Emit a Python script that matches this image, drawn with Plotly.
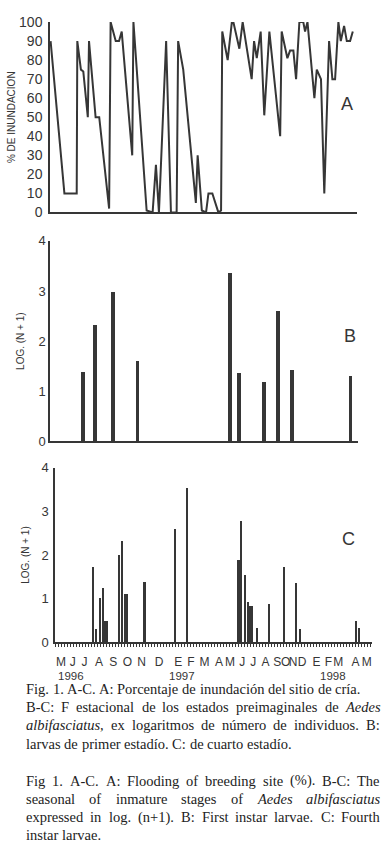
import plotly.graph_objects as go

W, H = 381, 859

# ---------------- data (x = sampling week index) ----------------
# Panel A: % flooding of breeding site
a_week = [0.2, 4.8, 8.9, 9.1, 10.3, 11.1, 12.6, 13.0, 15.2, 16.4, 19.7, 20.2, 21.9, 23.0,
          23.9, 27.4, 27.8, 32.2, 34.2, 35.3, 36.3, 38.7, 40.3, 42.2, 42.7, 44.4, 48.6,
          49.2, 50.6, 52.0, 52.8, 54.1, 56.1, 57.0, 57.4, 59.2, 60.6, 61.1, 63.1, 64.2,
          67.2, 68.0, 68.9, 70.2, 71.4, 73.1, 76.7, 77.2, 79.1, 80.0, 81.1, 82.0, 83.1,
          84.4, 85.0, 85.8, 88.1, 88.9, 90.3, 91.4, 93.0, 94.1, 95.0, 96.1, 96.9, 98.0,
          98.9, 100.0, 100.9]
a_flood = [90, 10, 10, 90, 75, 74, 50, 90, 50, 50, 2, 100, 90, 90,
           95, 30, 100, 1, 0, 25, 0, 90, 0, 0, 90, 75, 5,
           30, 1, 0, 10, 10, 0, 1, 95, 80, 100, 100, 86, 100,
           70, 90, 81, 95, 51, 95, 40, 95, 81, 85, 85, 70, 100,
           100, 95, 100, 60, 75, 70, 10, 90, 70, 70, 100, 90, 98,
           90, 90, 95]

# Panel B: first instar larvae, log(N+1)
b_week = [11.1, 15.0, 21.1, 29.2, 60.0, 63.1, 71.4, 76.1, 80.8, 100.2]
b_log = [1.38, 2.32, 2.99, 1.60, 3.36, 1.36, 1.19, 2.61, 1.42, 1.30]

# Panel C: fourth instar larvae, log(N+1)
c_week = [12.6, 13.7, 15.0, 15.9, 16.8, 17.2, 21.3, 22.4, 23.4, 23.9, 29.8, 40.0, 44.0,
          61.0, 61.4, 62.1, 63.3, 64.3, 65.0, 65.6, 67.4, 71.4, 76.4, 80.3, 81.7, 100.3, 101.4]
c_log = [1.74, 0.31, 1.02, 1.25, 0.51, 0.51, 2.02, 2.32, 1.11, 1.11, 1.40, 2.60, 3.55,
         1.89, 1.89, 2.78, 1.55, 0.93, 0.84, 0.84, 0.33, 0.88, 1.74, 1.38, 0.31, 0.51, 0.33]

month_labels = ["M", "J", "J", "A", "S", "O", "N", "D", "E", "F", "M", "A",
                "M", "J", "J", "A", "S", "O", "N", "D", "E", "F", "M", "A", "M"]
month_pos = [2.0, 5.9, 9.8, 14.7, 19.4, 24.1, 28.9, 34.7, 41.1, 45.3, 49.8, 54.7,
             58.3, 62.4, 66.1, 70.2, 74.1, 76.9, 79.4, 82.4, 87.2, 91.1, 94.4, 100.2, 103.9]
year_labels = ["1996", "1997", "1998"]
year_pos = [5.3, 42.3, 92.7]

# ---------------- helpers ----------------
def px(x):
    return x / W

def py(y):
    return 1 - y / H

INK = "#363636"
SANS = "Liberation Sans, Arial, sans-serif"
SERIF = "Liberation Serif, Times New Roman, serif"

# Times (Liberation Serif) advance widths, per 1000 em
ROMAN = {" ": 250, "!": 333, "(": 333, ")": 333, "+": 564, ",": 250, "-": 333, ".": 250,
         ":": 278, "%": 833, "A": 722, "B": 667, "C": 667, "D": 722, "E": 611, "F": 556,
         "G": 722, "H": 722, "I": 333, "J": 389, "K": 722, "L": 611, "M": 889, "N": 722,
         "O": 722, "P": 556, "R": 667, "S": 556, "T": 611, "U": 722, "a": 444, "b": 500,
         "c": 444, "d": 500, "e": 444, "f": 333, "g": 500, "h": 500, "i": 278, "j": 278,
         "k": 500, "l": 278, "m": 778, "n": 500, "o": 500, "p": 500, "q": 500, "r": 333,
         "s": 389, "t": 278, "u": 500, "v": 500, "w": 722, "x": 500, "y": 500, "z": 444,
         "á": 444, "í": 278, "ú": 500, "ó": 500}
ITALIC = {"A": 611, "a": 500, "b": 500, "c": 444, "d": 500, "e": 444, "f": 278, "i": 278,
          "l": 278, "s": 389, "t": 278, "u": 500, ",": 250}

def word_width(word, italic, fs):
    tab = ITALIC if italic else ROMAN
    return sum(tab.get(ch, ROMAN.get(ch, 500)) for ch in word) * fs / 1000.0

CAP_FS = 14.5
CAP_LEFT, CAP_RIGHT = 25, 379

fig = go.Figure()

fig.add_trace(go.Scatter(x=a_week, y=a_flood, mode="lines",
                         line=dict(color=INK, width=2), cliponaxis=False,
                         xaxis="x", yaxis="y", showlegend=False))
fig.add_trace(go.Bar(x=b_week, y=b_log, width=1.25, marker=dict(color=INK, line=dict(width=0)),
                     xaxis="x2", yaxis="y2", showlegend=False))
fig.add_trace(go.Bar(x=c_week, y=c_log, width=0.75, marker=dict(color=INK, line=dict(width=0)),
                     xaxis="x3", yaxis="y3", showlegend=False))

common_x = dict(showline=True, linecolor=INK, linewidth=1.5, showgrid=False, zeroline=False,
                showticklabels=False, ticks="", fixedrange=True)
common_y = dict(showline=True, linecolor=INK, linewidth=1.5, showgrid=False, zeroline=False,
                ticks="", tickfont=dict(family=SANS, size=13, color=INK), fixedrange=True,
                ticklabelstandoff=2)

fig.update_layout(
    width=W, height=H,
    margin=dict(l=0, r=0, t=0, b=0),
    paper_bgcolor="white", plot_bgcolor="rgba(0,0,0,0)",
    bargap=0,
    xaxis=dict(common_x, domain=[px(50), px(357)], range=[0, 102.3], anchor="y"),
    yaxis=dict(common_y, domain=[py(208.3), py(14.3)], range=[0, 100],
               tickvals=list(range(0, 101, 10)), anchor="x",
               tickfont=dict(family=SANS, size=14, color=INK), ticklabelstandoff=3,
               title=dict(text="% DE INUNDACION", font=dict(family=SANS, size=10, color=INK),
                          standoff=2)),
    xaxis2=dict(common_x, domain=[px(50), px(358)], range=[0, 102.7], anchor="y2"),
    yaxis2=dict(common_y, domain=[py(441.7), py(237.3)], range=[0, 4], dtick=1, anchor="x2",
                ticklabelstandoff=0,
                title=dict(text="LOG. (N + 1)", font=dict(family=SANS, size=10, color=INK),
                           standoff=12)),
    xaxis3=dict(common_x, domain=[px(55), px(371.5)], range=[0, 105.5], anchor="y3",
                showticklabels=True, tickvals=month_pos, ticktext=month_labels,
                tickangle=0, tickfont=dict(family=SANS, size=12, color=INK),
                ticklabelstandoff=7,
                minor=dict(ticks="outside", dtick=1, tick0=0, ticklen=3,
                           tickcolor=INK, tickwidth=1)),
    yaxis3=dict(common_y, domain=[py(646.5), py(468.3)], range=[0, 4], dtick=1, anchor="x3",
                title=dict(text="LOG. (N + 1)", font=dict(family=SANS, size=10, color=INK),
                           standoff=10)),
)

ann = []
# panel letters
for letter, (lx, ly) in zip(["A", "B", "C"], [(347, 98), (350, 334), (348, 541)]):
    ann.append(dict(text=letter, x=px(lx), y=py(ly), xref="paper", yref="paper",
                    showarrow=False, xanchor="center", yanchor="middle",
                    font=dict(family=SANS, size=18, color=INK)))
# year labels
for yl, yp in zip(year_labels, year_pos):
    ann.append(dict(text=yl, x=yp, y=py(681), xref="x3", yref="paper", showarrow=False,
                    xanchor="center", yanchor="middle", borderpad=0,
                    font=dict(family=SANS, size=11.5, color=INK)))

# caption: (centre y, words, justified)
# words marked with a leading '*' are italic
cap_lines = [
    (694, "Fig. 1. A-C. A: Porcentaje de inundación del sitio de cría.", False),
    (712.5, "B-C: F estacional de los estados preimaginales de *Aedes", True),
    (731, "*albifasciatus, ex logaritmos de número de individuos. B:", True),
    (749.5, "larvas de primer estadío. C: de cuarto estadío.", False),
    (787.5, "Fig 1. A-C. A: Flooding of breeding site (%). B-C: The", True),
    (806, "seasonal of inmature stages of *Aedes *albifasciatus", True),
    (824.5, "expressed in log. (n+1). B: First instar larvae. C: Fourth", True),
    (843, "instar larvae.", False),
]
for yc, line, justify in cap_lines:
    words = []
    for w in line.split(" "):
        if w.startswith("*"):
            words.append((w[1:], True))
        else:
            words.append((w, False))
    widths = [word_width(w, it, CAP_FS) for w, it in words]
    space = 250 * CAP_FS / 1000.0
    if justify and len(words) > 1:
        gap = (CAP_RIGHT - CAP_LEFT - sum(widths)) / (len(words) - 1)
    else:
        gap = space
    xcur = CAP_LEFT
    for (w, it), wd in zip(words, widths):
        txt = "<i>%s</i>" % w if it else w
        ann.append(dict(text=txt, x=px(xcur), y=py(yc), xref="paper", yref="paper",
                        showarrow=False, xanchor="left", yanchor="middle", borderpad=0,
                        font=dict(family=SERIF, size=CAP_FS, color="#222")))
        xcur += wd + gap

fig.update_layout(annotations=ann)
fig.write_html("out.html", config={"responsive": False, "displayModeBar": False},
               post_script="document.body.style.margin='0px';document.body.style.overflow='hidden';")
